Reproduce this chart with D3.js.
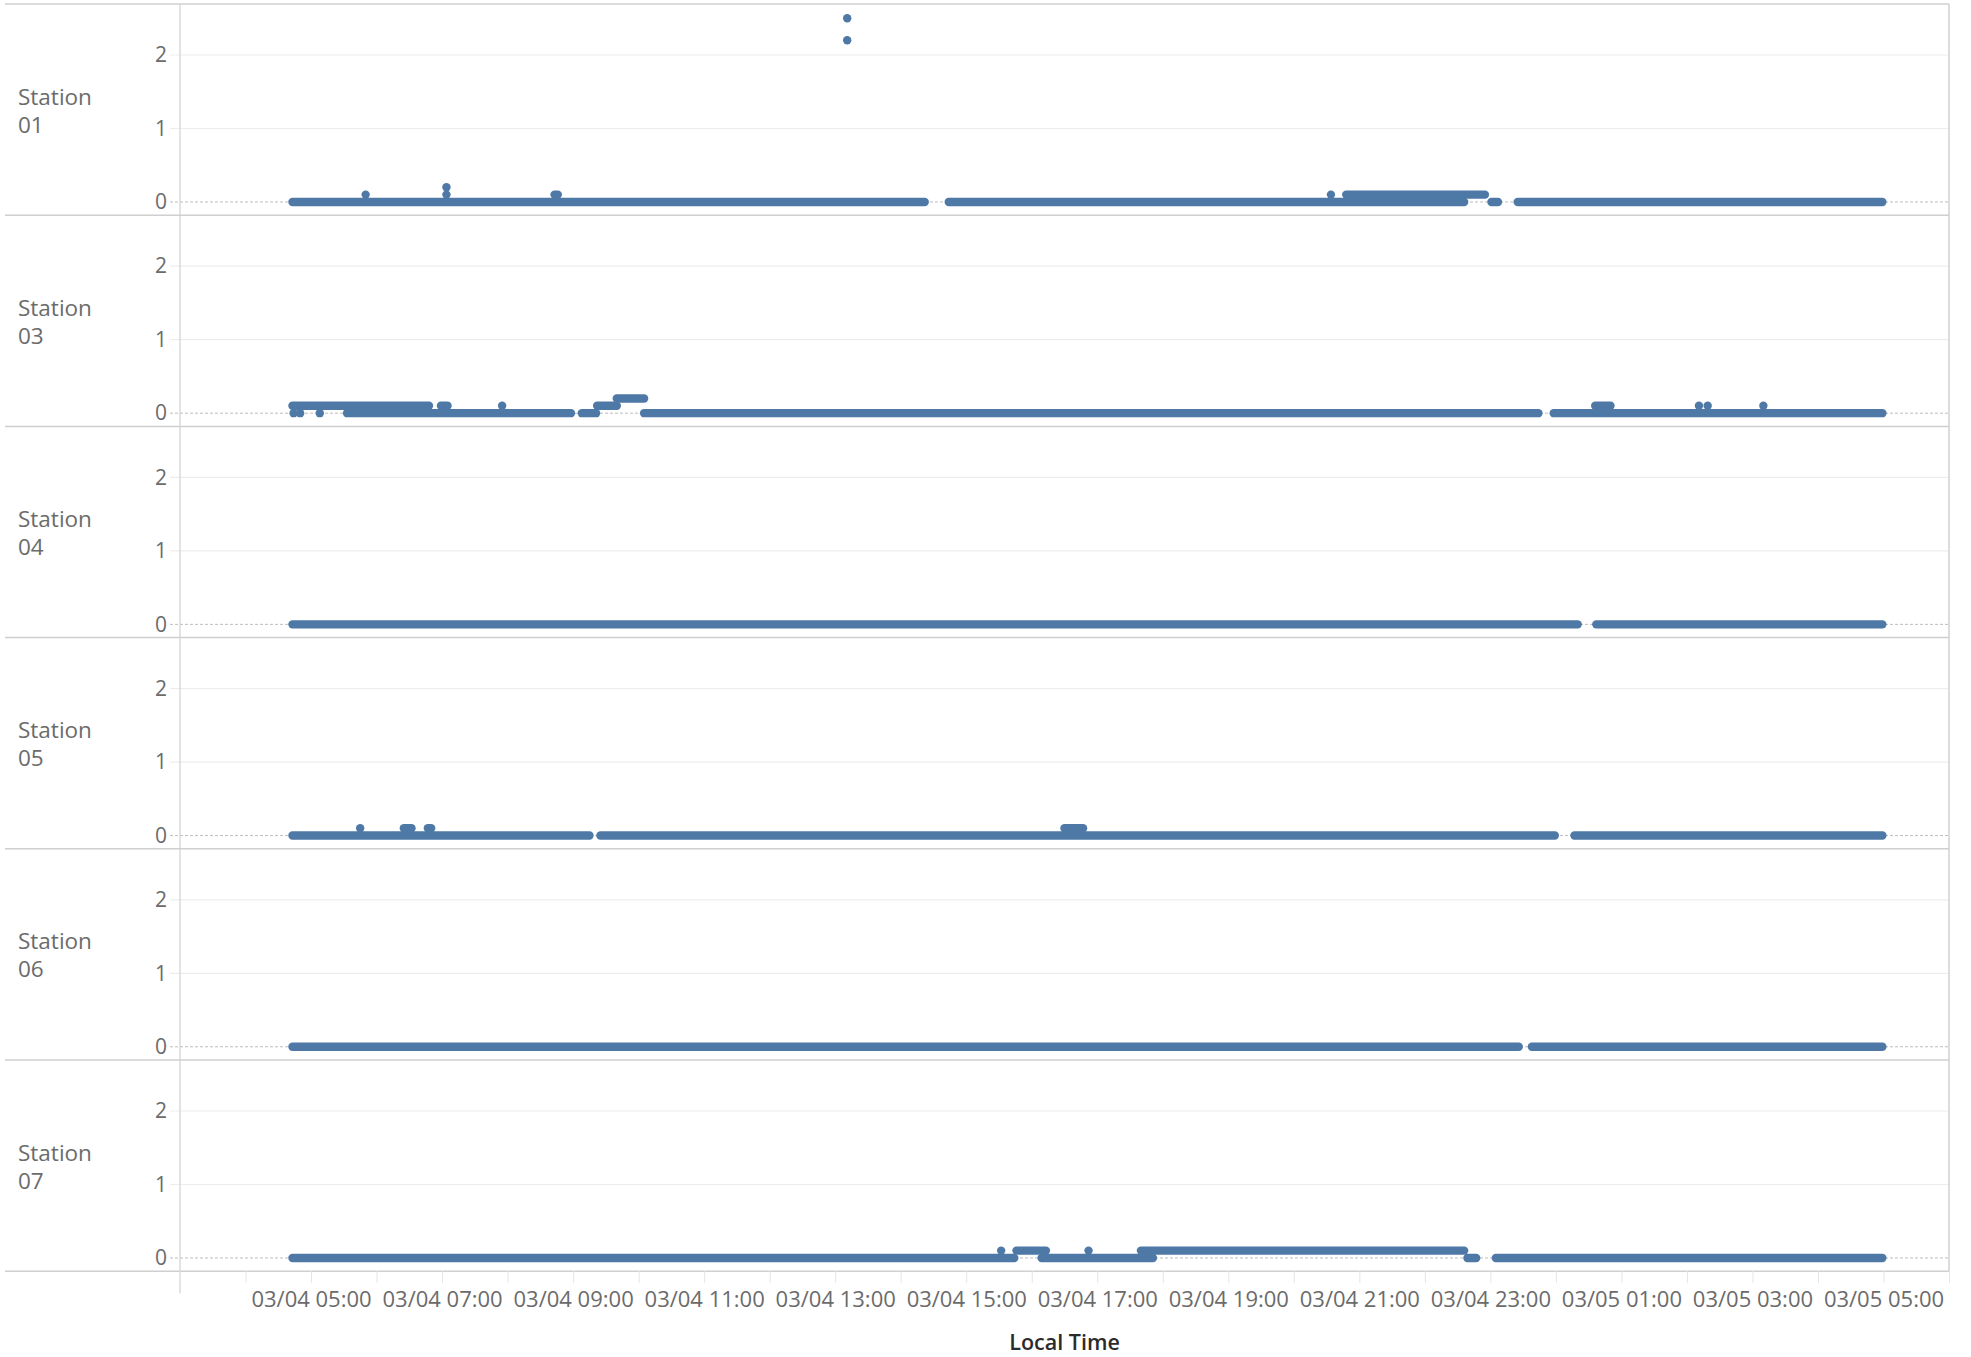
<!DOCTYPE html>
<html><head><meta charset="utf-8">
<script src="https://cdn.jsdelivr.net/npm/d3@7"></script>
<style>body{margin:0;background:#fff}svg text{font-family:"Open Sans",sans-serif}</style>
</head><body><svg id="c" width="1971" height="1357"></svg>
<script>
// ---------------- data ----------------
const stations = ["01", "03", "04", "05", "06", "07"];
const yTicks = [0, 1, 2];
const xDomain = ["03/04 03:00", "03/05 06:00"];
const xLabelTimes = ["03/04 05:00", "03/04 07:00", "03/04 09:00", "03/04 11:00", "03/04 13:00",
  "03/04 15:00", "03/04 17:00", "03/04 19:00", "03/04 21:00", "03/04 23:00",
  "03/05 01:00", "03/05 03:00", "03/05 05:00"];
const xAxisTitle = "Local Time";

// observed runs of consecutive readings at one value: [start, end, value]
const runs01 = [
  ["03/04 04:43", "03/04 14:22", 0], ["03/04 14:44", "03/04 22:36", 0],
  ["03/04 23:01", "03/04 23:07", 0], ["03/04 23:25", "03/05 04:59", 0],
  ["03/04 08:43", "03/04 08:46", 0.1], ["03/04 20:48", "03/04 22:55", 0.1]
];
const points01 = [
  ["03/04 05:50", 0.1], ["03/04 07:04", 0.1], ["03/04 07:04", 0.2],
  ["03/04 13:11", 2.5], ["03/04 13:11", 2.2], ["03/04 20:34", 0.1]
];
const runs03 = [
  ["03/04 05:33", "03/04 08:58", 0], ["03/04 09:08", "03/04 09:21", 0],
  ["03/04 10:05", "03/04 23:44", 0], ["03/04 23:58", "03/05 04:59", 0],
  ["03/04 04:43", "03/04 06:48", 0.1], ["03/04 06:59", "03/04 07:05", 0.1],
  ["03/04 09:22", "03/04 09:40", 0.1], ["03/04 09:40", "03/04 10:05", 0.2],
  ["03/05 00:36", "03/05 00:50", 0.1]
];
const points03 = [
  ["03/04 04:44", 0], ["03/04 04:50", 0], ["03/04 05:08", 0],
  ["03/04 07:55", 0.1], ["03/05 02:11", 0.1], ["03/05 02:19", 0.1], ["03/05 03:10", 0.1]
];
const runs04 = [["03/04 04:43", "03/05 00:20", 0], ["03/05 00:37", "03/05 04:59", 0]];
const points04 = [];
const runs05 = [
  ["03/04 04:43", "03/04 09:15", 0], ["03/04 09:25", "03/04 23:59", 0],
  ["03/05 00:17", "03/05 04:59", 0],
  ["03/04 06:25", "03/04 06:32", 0.1], ["03/04 06:47", "03/04 06:50", 0.1],
  ["03/04 16:30", "03/04 16:47", 0.1]
];
const points05 = [["03/04 05:45", 0.1]];
const runs06 = [["03/04 04:43", "03/04 23:26", 0], ["03/04 23:38", "03/05 04:59", 0]];
const points06 = [];
const runs07 = [
  ["03/04 04:43", "03/04 15:44", 0], ["03/04 16:09", "03/04 17:51", 0],
  ["03/04 22:39", "03/04 22:47", 0], ["03/04 23:05", "03/05 04:59", 0],
  ["03/04 15:46", "03/04 16:13", 0.1], ["03/04 17:40", "03/04 22:36", 0.1]
];
const points07 = [["03/04 15:32", 0.1], ["03/04 16:52", 0.1]];

const stationRuns = [runs01, runs03, runs04, runs05, runs06, runs07];
const stationPoints = [points01, points03, points04, points05, points06, points07];

// ---------------- drawing ----------------
const parse = d3.timeParse("%m/%d %H:%M");
const fmt = d3.timeFormat("%m/%d %H:%M");
const X0 = 180, X1 = 1949, TOP = 4, PH = 211.2;
const BLUE = "#4e79a7", R = 4.2;
const svg = d3.select("#c");

const x = d3.scaleTime().domain(xDomain.map(parse)).range([X0, X1]);
const bottom = TOP + stations.length * PH;
const labelSet = new Set(xLabelTimes.map(t => +parse(t)));

// top border
svg.append("line").attr("x1", 5).attr("x2", X1).attr("y1", TOP).attr("y2", TOP)
  .attr("stroke", "#d0d0d0").attr("stroke-width", 1.5);

stations.forEach((s, i) => {
  const top = TOP + i * PH, bot = top + PH;
  const y = d3.scaleLinear().domain([-0.18, 2.694]).range([bot, top]);
  const g = svg.append("g");

  g.selectAll(".grid").data(yTicks.filter(v => v !== 0)).join("line")
    .attr("x1", 170).attr("x2", X1).attr("y1", d => y(d)).attr("y2", d => y(d))
    .attr("stroke", "#ededed").attr("stroke-width", 1.2);
  g.append("line").attr("x1", 170).attr("x2", X1).attr("y1", y(0)).attr("y2", y(0))
    .attr("stroke", "#bdbdbd").attr("stroke-width", 1).attr("stroke-dasharray", "3,2");

  const ax = g.append("g").attr("transform", `translate(${X0},0)`)
    .call(d3.axisLeft(y).tickValues(yTicks).tickSize(0).tickPadding(13).tickFormat(d3.format("d")));
  ax.select(".domain").remove();
  ax.selectAll("text").attr("font-size", 21).attr("fill", "#6b6b6b")
    .style("font-family", '"Open Sans",sans-serif');

  const lbl = g.append("text").attr("x", 18).attr("fill", "#6b6b6b").attr("font-size", 22.5);
  const cy = (top + bot) / 2;
  lbl.append("tspan").attr("x", 18).attr("y", cy - 5).text("Station");
  lbl.append("tspan").attr("x", 18).attr("y", cy + 23).text(s);

  g.selectAll(".run").data(stationRuns[i]).join("line")
    .attr("x1", d => x(parse(d[0]))).attr("x2", d => x(parse(d[1])))
    .attr("y1", d => y(d[2])).attr("y2", d => y(d[2]))
    .attr("stroke", BLUE).attr("stroke-width", 2 * R).attr("stroke-linecap", "round");
  g.selectAll(".pt").data(stationPoints[i]).join("circle")
    .attr("cx", d => x(parse(d[0]))).attr("cy", d => y(d[1])).attr("r", R)
    .attr("fill", BLUE);

  g.append("line").attr("x1", 5).attr("x2", X1).attr("y1", bot).attr("y2", bot)
    .attr("stroke", "#cfcfcf").attr("stroke-width", 1.5);
});

svg.append("line").attr("x1", X0).attr("x2", X0).attr("y1", TOP).attr("y2", bottom + 22)
  .attr("stroke", "#d0d0d0").attr("stroke-width", 1.2);
svg.append("line").attr("x1", X1).attr("x2", X1).attr("y1", TOP).attr("y2", bottom)
  .attr("stroke", "#d0d0d0").attr("stroke-width", 1.5);

const xa = svg.append("g").attr("transform", `translate(0,${bottom})`)
  .call(d3.axisBottom(x).ticks(d3.timeHour.every(1)).tickSize(12).tickPadding(8)
    .tickFormat(d => labelSet.has(+d) ? fmt(d) : ""));
xa.select(".domain").remove();
xa.selectAll(".tick line").attr("stroke", "#e6e6e6");
xa.selectAll("text").attr("font-size", 22).attr("fill", "#6b6b6b")
  .style("font-family", '"Open Sans",sans-serif');

svg.append("text").attr("x", (X0 + X1) / 2).attr("y", 1350).attr("text-anchor", "middle")
  .attr("font-size", 21.5).attr("fill", "#2b2b2b").attr("font-weight", 600).text(xAxisTitle);
</script></body></html>
